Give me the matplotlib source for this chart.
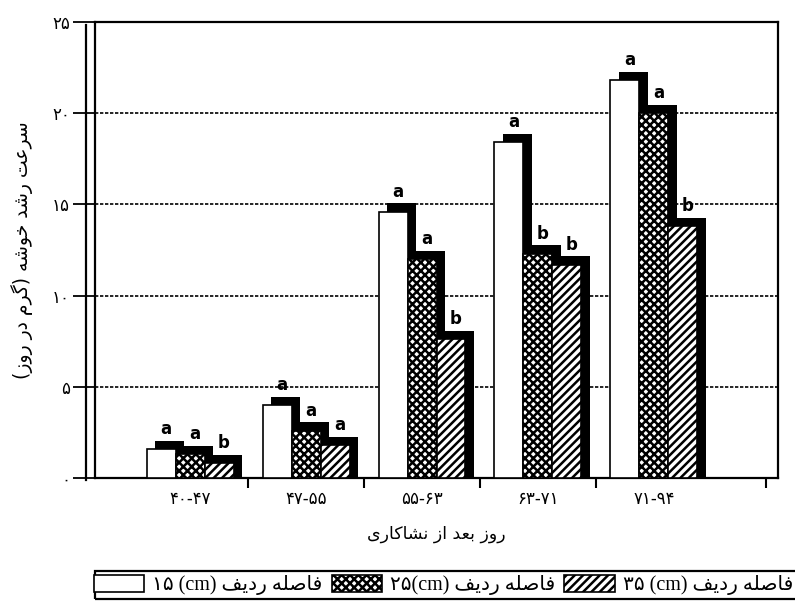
import matplotlib
matplotlib.use('Agg')
import matplotlib.pyplot as plt
from matplotlib.lines import Line2D
from matplotlib.patches import Rectangle
import numpy as np

# --- data ---
categories = ['۴۰-۴۷', '۴۷-۵۵', '۵۵-۶۳', '۶۳-۷۱', '۷۱-۹۴']
s15 = [1.6, 4.0, 14.6, 18.4, 21.8]
s25 = [1.3, 2.6, 12.0, 12.3, 20.0]
s35 = [0.8, 1.8, 7.6, 11.7, 13.8]
letters15 = ['a', 'a', 'a', 'a', 'a']
letters25 = ['a', 'a', 'a', 'b', 'a']
letters35 = ['b', 'a', 'b', 'b', 'b']
yticks = [0, 5, 10, 15, 20, 25]
ytick_labels = ['۰', '۵', '۱۰', '۱۵', '۲۰', '۲۵']
legend_nums = ['۱۵ ', '۲۵', '۳۵ ']
ylabel = 'سرعت رشد خوشه (گرم در روز)'
xlabel = 'روز بعد از نشاکاری'
legend_word = 'فاصله ردیف'

# minimal arabic shaping (matplotlib has no bidi / joining support)
BASE = {'ا': 0xFE8D, 'ب': 0xFE8F, 'ت': 0xFE95, 'خ': 0xFEA5, 'د': 0xFEA9,
        'ر': 0xFEAD, 'ز': 0xFEAF, 'س': 0xFEB1, 'ش': 0xFEB5, 'ص': 0xFEB9,
        'ع': 0xFEC9, 'ف': 0xFED1, 'ل': 0xFEDD, 'م': 0xFEE1, 'ن': 0xFEE5,
        'ه': 0xFEE9, 'و': 0xFEED, 'ی': 0xFBFC, 'ک': 0xFB8E, 'گ': 0xFB92}
RIGHT_ONLY = set('ادرزو')

def shape(s):
    out = []
    for i, ch in enumerate(s):
        if ch not in BASE:
            out.append(ch)
            continue
        prev = s[i-1] if i > 0 else ''
        nxt = s[i+1] if i + 1 < len(s) else ''
        jp = prev in BASE and prev not in RIGHT_ONLY
        jn = nxt in BASE and ch not in RIGHT_ONLY
        k = 3 if (jp and jn) else 1 if jp else 2 if jn else 0
        out.append(chr(BASE[ch] + k))
    vis = ''.join(reversed(out))
    return vis.translate(str.maketrans('()', ')('))

plt.rcParams['font.family'] = ['DejaVu Sans']
plt.rcParams['hatch.linewidth'] = 1.8

fig = plt.figure(figsize=(7.95, 6.12), dpi=100)
ax = fig.add_axes([95/795, 1-478/612, (778-95)/795, (478-22)/612])

x = np.arange(len(categories))
w = 0.25
sdx, sdy = 0.07, 0.45
series = [(s15, '', letters15), (s25, 'xxxx', letters25), (s35, '////', letters35)]
handles = []
for i, (vals, hatch, lets) in enumerate(series):
    vals = np.array(vals)
    xo = x + (i - 1) * w
    ax.bar(xo + sdx, vals + sdy, w, color='black', zorder=2 + 2*i)
    b = ax.bar(xo, vals, w, facecolor='white', edgecolor='black', hatch=hatch,
               linewidth=1.2, zorder=3 + 2*i)
    handles.append(b)
    for xx, v, t in zip(xo, vals, lets):
        ax.text(xx + 0.04, v + sdy + 0.15, t, ha='center', va='bottom',
                fontsize=12, fontweight='bold', zorder=10)

ax.set_xlim(-0.82, 5.07)
ax.set_ylim(0, 25)
ax.set_yticks(yticks)
ax.set_yticklabels(ytick_labels, fontsize=12)
for g in yticks[1:-1]:
    ax.axhline(g, color='black', linestyle=(0, (2, 1)), linewidth=1.2, zorder=1)

ax.set_xticks(x)
ax.set_xticklabels(categories, fontsize=12)
ax.tick_params(axis='x', length=0, pad=9)
ax.set_xticks([0.5, 1.5, 2.5, 3.5, 4.97], minor=True)
ax.tick_params(axis='x', which='minor', length=7, width=1.5, direction='out')
ax.tick_params(axis='y', length=16, width=1.3, direction='out', pad=2)

for sp in ax.spines.values():
    sp.set_linewidth(1.6)
# double left axis line like the scan
fig.add_artist(Line2D([86/795, 86/795], [1-480/612, 1-25/612], color='black', linewidth=1.6))

ax.set_ylabel(shape(ylabel), fontsize=13.5, labelpad=14)
ax.set_xlabel(shape(xlabel), fontsize=12.5, labelpad=12)

labels = [n + '(cm) ' + shape(legend_word) for n in legend_nums]
leg = fig.legend(handles, labels, ncol=3, loc='center left',
                 bbox_to_anchor=(0.118, 1-585/612), frameon=False,
                 handlelength=2.5, handleheight=0.9, borderaxespad=0,
                 borderpad=0, columnspacing=0.45, handletextpad=0.4,
                 prop={'family': ['Liberation Serif', 'DejaVu Sans'], 'size': 14.5})
# legend box runs off the right edge in the scan
fig.add_artist(Rectangle((95/795, 1-599/612), 0.9, 28/612, transform=fig.transFigure,
                         fill=False, edgecolor='black', linewidth=1.6))

fig.savefig('out.png', dpi=100)
